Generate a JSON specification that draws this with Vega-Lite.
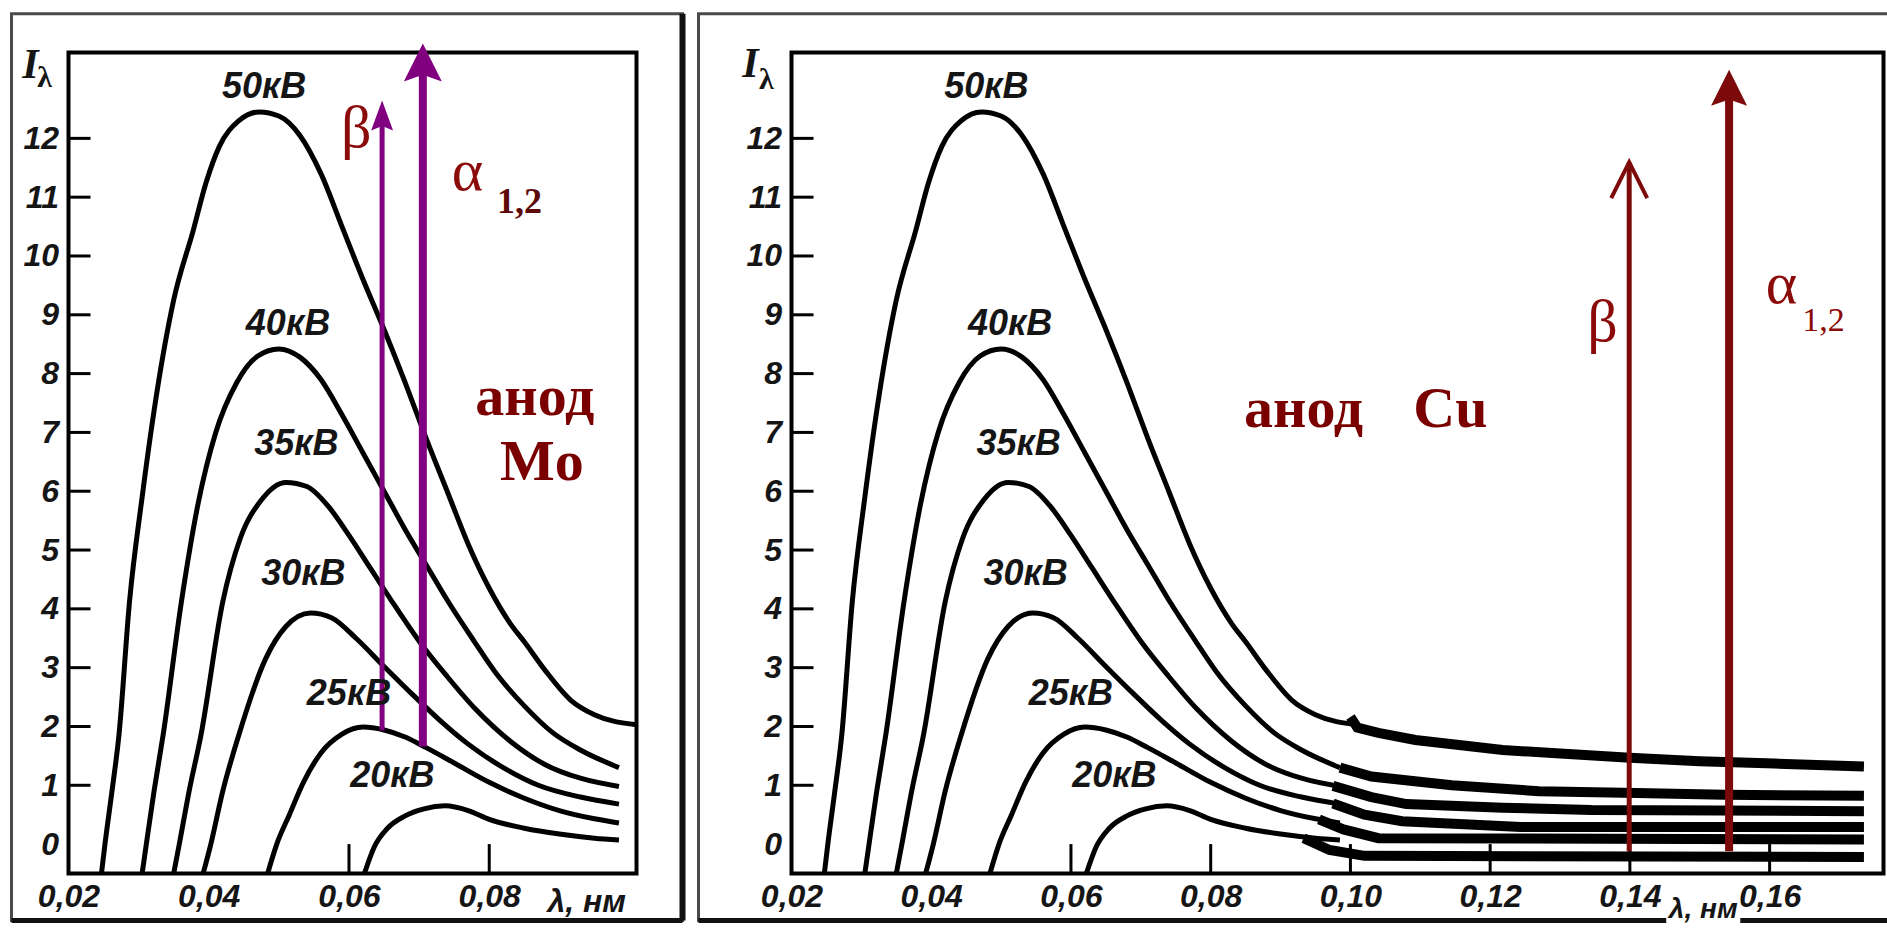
{
  "$schema": "https://vega.github.io/schema/vega-lite/v6.json",
  "background": "white",
  "padding": {"left": 6.5, "top": 8.5, "right": 0, "bottom": 0},
  "bounds": "flush",
  "spacing": 155,
  "config": {
    "view": {"stroke": "#000000", "strokeWidth": 4},
    "axis": {"labelFont": "Liberation Sans", "labelFontSize": 32, "labelFontWeight": "bold", "labelFontStyle": "italic", "labelColor": "#151515", "ticks": false, "domain": false, "grid": false, "labelFlush": false, "labelOverlap": false}
  },
  "datasets": {
    "curves": [
      {"kv": "50", "lam": 0.0247, "I": -0.5}, {"kv": "50", "lam": 0.0252, "I": 0}, {"kv": "50", "lam": 0.0262, "I": 0.9}, {"kv": "50", "lam": 0.0272, "I": 1.86}, {"kv": "50", "lam": 0.0287, "I": 4.12}, {"kv": "50", "lam": 0.0305, "I": 5.9}, {"kv": "50", "lam": 0.0325, "I": 7.6}, {"kv": "50", "lam": 0.035, "I": 9.25}, {"kv": "50", "lam": 0.0378, "I": 10.44}, {"kv": "50", "lam": 0.0396, "I": 11.24}, {"kv": "50", "lam": 0.0415, "I": 11.86}, {"kv": "50", "lam": 0.0443, "I": 12.3}, {"kv": "50", "lam": 0.0472, "I": 12.45}, {"kv": "50", "lam": 0.05, "I": 12.38}, {"kv": "50", "lam": 0.053, "I": 12.05}, {"kv": "50", "lam": 0.056, "I": 11.4}, {"kv": "50", "lam": 0.059, "I": 10.5}, {"kv": "50", "lam": 0.062, "I": 9.6}, {"kv": "50", "lam": 0.065, "I": 8.75}, {"kv": "50", "lam": 0.068, "I": 7.85}, {"kv": "50", "lam": 0.071, "I": 6.9}, {"kv": "50", "lam": 0.074, "I": 6.0}, {"kv": "50", "lam": 0.077, "I": 5.1}, {"kv": "50", "lam": 0.08, "I": 4.35}, {"kv": "50", "lam": 0.083, "I": 3.75}, {"kv": "50", "lam": 0.085, "I": 3.44}, {"kv": "50", "lam": 0.088, "I": 2.95}, {"kv": "50", "lam": 0.0916, "I": 2.45}, {"kv": "50", "lam": 0.095, "I": 2.2}, {"kv": "50", "lam": 0.101, "I": 2.03},
      {"kv": "40", "lam": 0.0305, "I": -0.5}, {"kv": "40", "lam": 0.0311, "I": 0}, {"kv": "40", "lam": 0.0322, "I": 0.9}, {"kv": "40", "lam": 0.0335, "I": 1.86}, {"kv": "40", "lam": 0.0361, "I": 4.12}, {"kv": "40", "lam": 0.0385, "I": 5.8}, {"kv": "40", "lam": 0.041, "I": 7.0}, {"kv": "40", "lam": 0.044, "I": 7.85}, {"kv": "40", "lam": 0.047, "I": 8.3}, {"kv": "40", "lam": 0.05, "I": 8.42}, {"kv": "40", "lam": 0.053, "I": 8.28}, {"kv": "40", "lam": 0.056, "I": 7.9}, {"kv": "40", "lam": 0.059, "I": 7.3}, {"kv": "40", "lam": 0.062, "I": 6.65}, {"kv": "40", "lam": 0.065, "I": 6.0}, {"kv": "40", "lam": 0.068, "I": 5.35}, {"kv": "40", "lam": 0.071, "I": 4.75}, {"kv": "40", "lam": 0.074, "I": 4.15}, {"kv": "40", "lam": 0.0779, "I": 3.44}, {"kv": "40", "lam": 0.081, "I": 2.9}, {"kv": "40", "lam": 0.085, "I": 2.35}, {"kv": "40", "lam": 0.089, "I": 1.9}, {"kv": "40", "lam": 0.093, "I": 1.6}, {"kv": "40", "lam": 0.0985, "I": 1.3},
      {"kv": "35", "lam": 0.035, "I": -0.5}, {"kv": "35", "lam": 0.0358, "I": 0}, {"kv": "35", "lam": 0.0372, "I": 0.9}, {"kv": "35", "lam": 0.0389, "I": 1.86}, {"kv": "35", "lam": 0.042, "I": 4.12}, {"kv": "35", "lam": 0.0445, "I": 5.2}, {"kv": "35", "lam": 0.0475, "I": 5.85}, {"kv": "35", "lam": 0.051, "I": 6.15}, {"kv": "35", "lam": 0.054, "I": 6.08}, {"kv": "35", "lam": 0.057, "I": 5.75}, {"kv": "35", "lam": 0.06, "I": 5.25}, {"kv": "35", "lam": 0.063, "I": 4.7}, {"kv": "35", "lam": 0.066, "I": 4.15}, {"kv": "35", "lam": 0.07, "I": 3.45}, {"kv": "35", "lam": 0.074, "I": 2.85}, {"kv": "35", "lam": 0.078, "I": 2.3}, {"kv": "35", "lam": 0.083, "I": 1.75}, {"kv": "35", "lam": 0.088, "I": 1.35}, {"kv": "35", "lam": 0.093, "I": 1.12}, {"kv": "35", "lam": 0.0985, "I": 0.98},
      {"kv": "30", "lam": 0.0392, "I": -0.5}, {"kv": "30", "lam": 0.0403, "I": 0}, {"kv": "30", "lam": 0.042, "I": 0.9}, {"kv": "30", "lam": 0.0443, "I": 1.86}, {"kv": "30", "lam": 0.0481, "I": 3.15}, {"kv": "30", "lam": 0.051, "I": 3.7}, {"kv": "30", "lam": 0.0545, "I": 3.93}, {"kv": "30", "lam": 0.0575, "I": 3.85}, {"kv": "30", "lam": 0.061, "I": 3.5}, {"kv": "30", "lam": 0.065, "I": 3.02}, {"kv": "30", "lam": 0.069, "I": 2.55}, {"kv": "30", "lam": 0.073, "I": 2.1}, {"kv": "30", "lam": 0.077, "I": 1.7}, {"kv": "30", "lam": 0.082, "I": 1.3}, {"kv": "30", "lam": 0.087, "I": 1.0}, {"kv": "30", "lam": 0.093, "I": 0.8}, {"kv": "30", "lam": 0.0985, "I": 0.68},
      {"kv": "25", "lam": 0.0484, "I": -0.5}, {"kv": "25", "lam": 0.0497, "I": 0}, {"kv": "25", "lam": 0.0515, "I": 0.5}, {"kv": "25", "lam": 0.0535, "I": 1.05}, {"kv": "25", "lam": 0.056, "I": 1.55}, {"kv": "25", "lam": 0.059, "I": 1.87}, {"kv": "25", "lam": 0.062, "I": 1.99}, {"kv": "25", "lam": 0.065, "I": 1.94}, {"kv": "25", "lam": 0.068, "I": 1.82}, {"kv": "25", "lam": 0.071, "I": 1.64}, {"kv": "25", "lam": 0.075, "I": 1.38}, {"kv": "25", "lam": 0.08, "I": 1.05}, {"kv": "25", "lam": 0.085, "I": 0.78}, {"kv": "25", "lam": 0.09, "I": 0.57}, {"kv": "25", "lam": 0.095, "I": 0.43}, {"kv": "25", "lam": 0.0985, "I": 0.36},
      {"kv": "20", "lam": 0.0622, "I": -0.5}, {"kv": "20", "lam": 0.0636, "I": -0.05}, {"kv": "20", "lam": 0.0655, "I": 0.27}, {"kv": "20", "lam": 0.068, "I": 0.48}, {"kv": "20", "lam": 0.0707, "I": 0.6}, {"kv": "20", "lam": 0.0737, "I": 0.65}, {"kv": "20", "lam": 0.077, "I": 0.57}, {"kv": "20", "lam": 0.08, "I": 0.42}, {"kv": "20", "lam": 0.085, "I": 0.27}, {"kv": "20", "lam": 0.09, "I": 0.17}, {"kv": "20", "lam": 0.095, "I": 0.1}, {"kv": "20", "lam": 0.0985, "I": 0.07}
    ],
    "bars": [
      {"kv": "50", "lam": 0.1, "I": 2.16}, {"kv": "50", "lam": 0.101, "I": 1.98}, {"kv": "50", "lam": 0.104, "I": 1.89}, {"kv": "50", "lam": 0.1093, "I": 1.77}, {"kv": "50", "lam": 0.1218, "I": 1.6}, {"kv": "50", "lam": 0.1312, "I": 1.53}, {"kv": "50", "lam": 0.14, "I": 1.47}, {"kv": "50", "lam": 0.15, "I": 1.41}, {"kv": "50", "lam": 0.1607, "I": 1.37}, {"kv": "50", "lam": 0.1735, "I": 1.32},
      {"kv": "40", "lam": 0.0985, "I": 1.3}, {"kv": "40", "lam": 0.103, "I": 1.15}, {"kv": "40", "lam": 0.1145, "I": 1.0}, {"kv": "40", "lam": 0.127, "I": 0.9}, {"kv": "40", "lam": 0.141, "I": 0.87}, {"kv": "40", "lam": 0.1535, "I": 0.84}, {"kv": "40", "lam": 0.1735, "I": 0.82},
      {"kv": "35", "lam": 0.0975, "I": 0.99}, {"kv": "35", "lam": 0.103, "I": 0.8}, {"kv": "35", "lam": 0.108, "I": 0.68}, {"kv": "35", "lam": 0.1218, "I": 0.62}, {"kv": "35", "lam": 0.1345, "I": 0.58}, {"kv": "35", "lam": 0.1735, "I": 0.56},
      {"kv": "30", "lam": 0.0975, "I": 0.69}, {"kv": "30", "lam": 0.102, "I": 0.5}, {"kv": "30", "lam": 0.1074, "I": 0.39}, {"kv": "30", "lam": 0.1244, "I": 0.29}, {"kv": "30", "lam": 0.1735, "I": 0.29},
      {"kv": "25", "lam": 0.0955, "I": 0.42}, {"kv": "25", "lam": 0.099, "I": 0.25}, {"kv": "25", "lam": 0.104, "I": 0.1}, {"kv": "25", "lam": 0.1735, "I": 0.08},
      {"kv": "20", "lam": 0.0933, "I": 0.1}, {"kv": "20", "lam": 0.097, "I": -0.1}, {"kv": "20", "lam": 0.102, "I": -0.2}, {"kv": "20", "lam": 0.1735, "I": -0.22}
    ],
    "arrows": [
      {"panel": "Mo", "line": "α", "lam": 0.07053, "base": 1.66, "top": 13.29, "head": 13.29},
      {"panel": "Mo", "line": "β", "lam": 0.06472, "base": 1.93, "top": 12.39, "head": 12.39},
      {"panel": "Cu", "line": "α", "lam": 0.1542, "base": -0.12, "top": 12.86, "head": 12.86},
      {"panel": "Cu", "line": "β", "lam": 0.1399, "base": -0.12, "top": 11.59, "head": 11.29}
    ],
    "kvlabels": [
      {"t": "50кВ", "lam": 0.0479, "I": 12.87},
      {"t": "40кВ", "lam": 0.0513, "I": 8.84},
      {"t": "35кВ", "lam": 0.0525, "I": 6.8},
      {"t": "30кВ", "lam": 0.0535, "I": 4.6},
      {"t": "25кВ", "lam": 0.06, "I": 2.55},
      {"t": "20кВ", "lam": 0.0662, "I": 1.15}
    ],
    "notes": [
      {"panel": "Mo", "role": "greek", "t": "β", "lam": 0.06103, "I": 11.86},
      {"panel": "Mo", "role": "greek", "t": "α", "lam": 0.0769, "I": 11.12},
      {"panel": "Mo", "role": "sub", "t": "1,2", "lam": 0.0843, "I": 10.73},
      {"panel": "Mo", "role": "anode", "t": "анод", "lam": 0.0865, "I": 7.29},
      {"panel": "Mo", "role": "anode", "t": "Mo", "lam": 0.0875, "I": 6.19},
      {"panel": "Mo", "role": "unit", "t": "λ, нм", "lam": 0.0939, "I": -0.98},
      {"panel": "Mo", "role": "Isym", "t": "I", "lam": 0.01458, "I": 13.24},
      {"panel": "Mo", "role": "Isub", "t": "λ", "lam": 0.01658, "I": 13.02},
      {"panel": "Cu", "role": "greek", "t": "β", "lam": 0.1361, "I": 8.56},
      {"panel": "Cu", "role": "greek", "t": "α", "lam": 0.1617, "I": 9.2},
      {"panel": "Cu", "role": "sub", "t": "1,2", "lam": 0.1677, "I": 8.73},
      {"panel": "Cu", "role": "anode", "t": "анод", "lam": 0.0933, "I": 7.1},
      {"panel": "Cu", "role": "anode", "t": "Cu", "lam": 0.1143, "I": 7.1},
      {"panel": "Cu", "role": "unit", "t": "λ, нм", "lam": 0.1505, "I": -1.12},
      {"panel": "Cu", "role": "Isym", "t": "I", "lam": 0.01413, "I": 13.27},
      {"panel": "Cu", "role": "Isub", "t": "λ", "lam": 0.01642, "I": 13.0}
    ],
    "yticks": [{"v": 1}, {"v": 2}, {"v": 3}, {"v": 4}, {"v": 5}, {"v": 6}, {"v": 7}, {"v": 8}, {"v": 9}, {"v": 10}, {"v": 11}, {"v": 12}],
    "xticks": [
      {"panel": "Mo", "lam": 0.06}, {"panel": "Mo", "lam": 0.08},
      {"panel": "Cu", "lam": 0.06}, {"panel": "Cu", "lam": 0.08}, {"panel": "Cu", "lam": 0.1}, {"panel": "Cu", "lam": 0.12}, {"panel": "Cu", "lam": 0.14}, {"panel": "Cu", "lam": 0.16}
    ]
  },
  "hconcat": [
    {
      "width": 568,
      "height": 821,
      "resolve": {"axis": {"x": "independent", "y": "independent"}},
      "layer": [
        {
          "data": {"values": [{}]},
          "mark": {"type": "rect", "filled": false, "stroke": "#4a4a4a", "strokeWidth": 3},
          "encoding": {
            "x": {"datum": 0.01187, "type": "quantitative", "scale": {"domain": [0.02, 0.101], "nice": false, "zero": false}, "axis": null},
            "x2": {"datum": 0.10756},
            "y": {"datum": 14.12, "type": "quantitative", "scale": {"domain": [-0.5, 13.46], "nice": false, "zero": false}, "axis": null},
            "y2": {"datum": -1.3}
          }
        },
        {
          "data": {"values": [{}]},
          "mark": {"type": "rule", "color": "#111", "strokeWidth": 5},
          "encoding": {
            "x": {"datum": 0.01187, "type": "quantitative", "scale": {"domain": [0.02, 0.101], "nice": false, "zero": false}, "axis": null},
            "x2": {"datum": 0.10756},
            "y": {"datum": -1.3, "type": "quantitative", "scale": {"domain": [-0.5, 13.46], "nice": false, "zero": false}, "axis": null}
          }
        },
        {
          "data": {"values": [{}]},
          "mark": {"type": "rule", "color": "#111", "strokeWidth": 6},
          "encoding": {
            "x": {"datum": 0.10756, "type": "quantitative", "scale": {"domain": [0.02, 0.101], "nice": false, "zero": false}, "axis": null},
            "y": {"datum": 14.12, "type": "quantitative", "scale": {"domain": [-0.5, 13.46], "nice": false, "zero": false}, "axis": null},
            "y2": {"datum": -1.3}
          }
        },
        {
          "data": {"name": "yticks"},
          "mark": {"type": "rule", "color": "#000", "strokeWidth": 3},
          "encoding": {
            "x": {"datum": 0.02, "type": "quantitative", "scale": {"domain": [0.02, 0.101], "nice": false, "zero": false}, "axis": null},
            "x2": {"datum": 0.02314},
            "y": {"field": "v", "type": "quantitative", "scale": {"domain": [-0.5, 13.46], "nice": false, "zero": false}, "axis": null}
          }
        },
        {
          "data": {"name": "xticks"},
          "transform": [{"filter": "datum.panel == 'Mo'"}],
          "mark": {"type": "rule", "color": "#000", "strokeWidth": 3},
          "encoding": {
            "x": {"field": "lam", "type": "quantitative", "scale": {"domain": [0.02, 0.101], "nice": false, "zero": false}, "axis": null},
            "y": {"datum": -0.5, "type": "quantitative", "scale": {"domain": [-0.5, 13.46], "nice": false, "zero": false}, "axis": null},
            "y2": {"datum": 0.0}
          }
        },
        {
          "data": {"name": "curves"},
          "mark": {"type": "line", "color": "#000", "strokeWidth": 5, "interpolate": "monotone"},
          "encoding": {
            "x": {"field": "lam", "type": "quantitative", "scale": {"domain": [0.02, 0.101], "nice": false, "zero": false},
                  "axis": {"values": [0.02, 0.04, 0.06, 0.08], "labelExpr": "replace(format(datum.value, '.2f'), '.', ',')", "labelPadding": 8, "title": null}},
            "y": {"field": "I", "type": "quantitative", "scale": {"domain": [-0.5, 13.46], "nice": false, "zero": false},
                  "axis": {"values": [0, 1, 2, 3, 4, 5, 6, 7, 8, 9, 10, 11, 12], "format": "d", "labelPadding": 10, "title": null}},
            "detail": {"field": "kv", "type": "nominal"}
          }
        },
        {
          "data": {"name": "arrows"},
          "transform": [{"filter": "datum.panel == 'Mo'"}],
          "mark": {"type": "rule", "color": "#800080"},
          "encoding": {
            "x": {"field": "lam", "type": "quantitative", "scale": {"domain": [0.02, 0.101], "nice": false, "zero": false}, "axis": null},
            "y": {"field": "base", "type": "quantitative", "scale": {"domain": [-0.5, 13.46], "nice": false, "zero": false}, "axis": null},
            "y2": {"field": "top"},
            "strokeWidth": {"field": "line", "type": "nominal", "scale": {"domain": ["α", "β"], "range": [8, 5]}, "legend": null}
          }
        },
        {
          "data": {"name": "arrows"},
          "transform": [{"filter": "datum.panel == 'Mo' && datum.line == 'α'"}],
          "mark": {"type": "point", "shape": "M0,-1L-1,1L0,0.65L1,1Z", "size": 1444, "filled": true, "color": "#800080", "opacity": 1},
          "encoding": {
            "x": {"field": "lam", "type": "quantitative", "scale": {"domain": [0.02, 0.101], "nice": false, "zero": false}, "axis": null},
            "y": {"field": "head", "type": "quantitative", "scale": {"domain": [-0.5, 13.46], "nice": false, "zero": false}, "axis": null}
          }
        },
        {
          "data": {"name": "arrows"},
          "transform": [{"filter": "datum.panel == 'Mo' && datum.line == 'β'"}],
          "mark": {"type": "point", "shape": "M0,-1L-0.73,1L0,0.7L0.73,1Z", "size": 900, "filled": true, "color": "#800080", "opacity": 1},
          "encoding": {
            "x": {"field": "lam", "type": "quantitative", "scale": {"domain": [0.02, 0.101], "nice": false, "zero": false}, "axis": null},
            "y": {"field": "head", "type": "quantitative", "scale": {"domain": [-0.5, 13.46], "nice": false, "zero": false}, "axis": null}
          }
        },
        {
          "data": {"name": "kvlabels"},
          "mark": {"type": "text", "font": "Liberation Sans", "fontSize": 36, "fontWeight": "bold", "fontStyle": "italic", "color": "#151515", "align": "center", "baseline": "middle"},
          "encoding": {
            "x": {"field": "lam", "type": "quantitative", "scale": {"domain": [0.02, 0.101], "nice": false, "zero": false}, "axis": null},
            "y": {"field": "I", "type": "quantitative", "scale": {"domain": [-0.5, 13.46], "nice": false, "zero": false}, "axis": null},
            "text": {"field": "t"}
          }
        },
        {
          "data": {"name": "notes"},
          "transform": [{"filter": "datum.panel == 'Mo' && datum.role == 'greek'"}],
          "mark": {"type": "text", "font": "Liberation Serif", "fontSize": 60, "color": "#8b0a0a", "align": "center", "baseline": "alphabetic"},
          "encoding": {
            "x": {"field": "lam", "type": "quantitative", "scale": {"domain": [0.02, 0.101], "nice": false, "zero": false}, "axis": null},
            "y": {"field": "I", "type": "quantitative", "scale": {"domain": [-0.5, 13.46], "nice": false, "zero": false}, "axis": null},
            "text": {"field": "t"}
          }
        },
        {
          "data": {"name": "notes"},
          "transform": [{"filter": "datum.panel == 'Mo' && datum.role == 'sub'"}],
          "mark": {"type": "text", "font": "Liberation Serif", "fontSize": 36, "fontWeight": "bold", "color": "#5e0a0a", "align": "center", "baseline": "alphabetic"},
          "encoding": {
            "x": {"field": "lam", "type": "quantitative", "scale": {"domain": [0.02, 0.101], "nice": false, "zero": false}, "axis": null},
            "y": {"field": "I", "type": "quantitative", "scale": {"domain": [-0.5, 13.46], "nice": false, "zero": false}, "axis": null},
            "text": {"field": "t"}
          }
        },
        {
          "data": {"name": "notes"},
          "transform": [{"filter": "datum.panel == 'Mo' && datum.role == 'anode'"}],
          "mark": {"type": "text", "font": "Liberation Serif", "fontSize": 58, "fontWeight": "bold", "color": "#7a0000", "align": "center", "baseline": "alphabetic"},
          "encoding": {
            "x": {"field": "lam", "type": "quantitative", "scale": {"domain": [0.02, 0.101], "nice": false, "zero": false}, "axis": null},
            "y": {"field": "I", "type": "quantitative", "scale": {"domain": [-0.5, 13.46], "nice": false, "zero": false}, "axis": null},
            "text": {"field": "t"}
          }
        },
        {
          "data": {"name": "notes"},
          "transform": [{"filter": "datum.panel == 'Mo' && datum.role == 'unit'"}],
          "mark": {"type": "text", "font": "Liberation Sans", "fontSize": 32, "fontWeight": "bold", "fontStyle": "italic", "color": "#151515", "align": "center", "baseline": "middle"},
          "encoding": {
            "x": {"field": "lam", "type": "quantitative", "scale": {"domain": [0.02, 0.101], "nice": false, "zero": false}, "axis": null},
            "y": {"field": "I", "type": "quantitative", "scale": {"domain": [-0.5, 13.46], "nice": false, "zero": false}, "axis": null},
            "text": {"field": "t"}
          }
        },
        {
          "data": {"name": "notes"},
          "transform": [{"filter": "datum.panel == 'Mo' && datum.role == 'Isym'"}],
          "mark": {"type": "text", "font": "Liberation Serif", "fontSize": 42, "fontWeight": "bold", "fontStyle": "italic", "color": "#151515", "align": "center", "baseline": "middle"},
          "encoding": {
            "x": {"field": "lam", "type": "quantitative", "scale": {"domain": [0.02, 0.101], "nice": false, "zero": false}, "axis": null},
            "y": {"field": "I", "type": "quantitative", "scale": {"domain": [-0.5, 13.46], "nice": false, "zero": false}, "axis": null},
            "text": {"field": "t"}
          }
        },
        {
          "data": {"name": "notes"},
          "transform": [{"filter": "datum.panel == 'Mo' && datum.role == 'Isub'"}],
          "mark": {"type": "text", "font": "Liberation Serif", "fontSize": 30, "fontWeight": "bold", "color": "#151515", "align": "center", "baseline": "middle"},
          "encoding": {
            "x": {"field": "lam", "type": "quantitative", "scale": {"domain": [0.02, 0.101], "nice": false, "zero": false}, "axis": null},
            "y": {"field": "I", "type": "quantitative", "scale": {"domain": [-0.5, 13.46], "nice": false, "zero": false}, "axis": null},
            "text": {"field": "t"}
          }
        }
      ]
    },
    {
      "width": 1092,
      "height": 821,
      "resolve": {"axis": {"x": "independent", "y": "independent"}},
      "layer": [
        {
          "data": {"values": [{}]},
          "mark": {"type": "rect", "filled": false, "stroke": "#4a4a4a", "strokeWidth": 3},
          "encoding": {
            "x": {"datum": 0.00669, "type": "quantitative", "scale": {"domain": [0.02, 0.1763], "nice": false, "zero": false}, "axis": null},
            "x2": {"datum": 0.17715},
            "y": {"datum": 14.12, "type": "quantitative", "scale": {"domain": [-0.5, 13.46], "nice": false, "zero": false}, "axis": null},
            "y2": {"datum": -1.3}
          }
        },
        {
          "data": {"values": [{}]},
          "mark": {"type": "rule", "color": "#111", "strokeWidth": 5},
          "encoding": {
            "x": {"datum": 0.00669, "type": "quantitative", "scale": {"domain": [0.02, 0.1763], "nice": false, "zero": false}, "axis": null},
            "x2": {"datum": 0.17715},
            "y": {"datum": -1.3, "type": "quantitative", "scale": {"domain": [-0.5, 13.46], "nice": false, "zero": false}, "axis": null}
          }
        },
        {
          "data": {"values": [{}]},
          "mark": {"type": "rect", "color": "white", "opacity": 1},
          "encoding": {
            "x": {"datum": 0.1452, "type": "quantitative", "scale": {"domain": [0.02, 0.1763], "nice": false, "zero": false}, "axis": null},
            "x2": {"datum": 0.1558},
            "y": {"datum": -0.92, "type": "quantitative", "scale": {"domain": [-0.5, 13.46], "nice": false, "zero": false}, "axis": null},
            "y2": {"datum": -1.42}
          }
        },
        {
          "data": {"name": "yticks"},
          "mark": {"type": "rule", "color": "#000", "strokeWidth": 3},
          "encoding": {
            "x": {"datum": 0.02, "type": "quantitative", "scale": {"domain": [0.02, 0.1763], "nice": false, "zero": false}, "axis": null},
            "x2": {"datum": 0.02315},
            "y": {"field": "v", "type": "quantitative", "scale": {"domain": [-0.5, 13.46], "nice": false, "zero": false}, "axis": null}
          }
        },
        {
          "data": {"name": "xticks"},
          "transform": [{"filter": "datum.panel == 'Cu'"}],
          "mark": {"type": "rule", "color": "#000", "strokeWidth": 3},
          "encoding": {
            "x": {"field": "lam", "type": "quantitative", "scale": {"domain": [0.02, 0.1763], "nice": false, "zero": false}, "axis": null},
            "y": {"datum": -0.5, "type": "quantitative", "scale": {"domain": [-0.5, 13.46], "nice": false, "zero": false}, "axis": null},
            "y2": {"datum": 0.0}
          }
        },
        {
          "data": {"name": "curves"},
          "mark": {"type": "line", "color": "#000", "strokeWidth": 5, "interpolate": "monotone"},
          "encoding": {
            "x": {"field": "lam", "type": "quantitative", "scale": {"domain": [0.02, 0.1763], "nice": false, "zero": false},
                  "axis": {"values": [0.02, 0.04, 0.06, 0.08, 0.1, 0.12, 0.14, 0.16], "labelExpr": "replace(format(datum.value, '.2f'), '.', ',')", "labelPadding": 8, "title": null}},
            "y": {"field": "I", "type": "quantitative", "scale": {"domain": [-0.5, 13.46], "nice": false, "zero": false},
                  "axis": {"values": [0, 1, 2, 3, 4, 5, 6, 7, 8, 9, 10, 11, 12], "format": "d", "labelPadding": 10, "title": null}},
            "detail": {"field": "kv", "type": "nominal"}
          }
        },
        {
          "data": {"name": "bars"},
          "mark": {"type": "line", "color": "#000", "strokeWidth": 10},
          "encoding": {
            "x": {"field": "lam", "type": "quantitative", "scale": {"domain": [0.02, 0.1763], "nice": false, "zero": false}, "axis": null},
            "y": {"field": "I", "type": "quantitative", "scale": {"domain": [-0.5, 13.46], "nice": false, "zero": false}, "axis": null},
            "detail": {"field": "kv", "type": "nominal"}
          }
        },
        {
          "data": {"name": "arrows"},
          "transform": [{"filter": "datum.panel == 'Cu'"}],
          "mark": {"type": "rule", "color": "#7d0a0a"},
          "encoding": {
            "x": {"field": "lam", "type": "quantitative", "scale": {"domain": [0.02, 0.1763], "nice": false, "zero": false}, "axis": null},
            "y": {"field": "base", "type": "quantitative", "scale": {"domain": [-0.5, 13.46], "nice": false, "zero": false}, "axis": null},
            "y2": {"field": "top"},
            "strokeWidth": {"field": "line", "type": "nominal", "scale": {"domain": ["α", "β"], "range": [9, 4]}, "legend": null}
          }
        },
        {
          "data": {"name": "arrows"},
          "transform": [{"filter": "datum.panel == 'Cu' && datum.line == 'α'"}],
          "mark": {"type": "point", "shape": "M0,-1L-1,1L0,0.65L1,1Z", "size": 1300, "filled": true, "color": "#7d0a0a", "opacity": 1},
          "encoding": {
            "x": {"field": "lam", "type": "quantitative", "scale": {"domain": [0.02, 0.1763], "nice": false, "zero": false}, "axis": null},
            "y": {"field": "head", "type": "quantitative", "scale": {"domain": [-0.5, 13.46], "nice": false, "zero": false}, "axis": null}
          }
        },
        {
          "data": {"name": "arrows"},
          "transform": [{"filter": "datum.panel == 'Cu' && datum.line == 'β'"}],
          "mark": {"type": "point", "shape": "M-1,1L0,-1L1,1", "size": 1296, "filled": false, "strokeWidth": 4, "color": "#7d0a0a", "opacity": 1},
          "encoding": {
            "x": {"field": "lam", "type": "quantitative", "scale": {"domain": [0.02, 0.1763], "nice": false, "zero": false}, "axis": null},
            "y": {"field": "head", "type": "quantitative", "scale": {"domain": [-0.5, 13.46], "nice": false, "zero": false}, "axis": null}
          }
        },
        {
          "data": {"name": "kvlabels"},
          "mark": {"type": "text", "font": "Liberation Sans", "fontSize": 36, "fontWeight": "bold", "fontStyle": "italic", "color": "#151515", "align": "center", "baseline": "middle"},
          "encoding": {
            "x": {"field": "lam", "type": "quantitative", "scale": {"domain": [0.02, 0.1763], "nice": false, "zero": false}, "axis": null},
            "y": {"field": "I", "type": "quantitative", "scale": {"domain": [-0.5, 13.46], "nice": false, "zero": false}, "axis": null},
            "text": {"field": "t"}
          }
        },
        {
          "data": {"name": "notes"},
          "transform": [{"filter": "datum.panel == 'Cu' && datum.role == 'greek'"}],
          "mark": {"type": "text", "font": "Liberation Serif", "fontSize": 60, "color": "#8b0a0a", "align": "center", "baseline": "alphabetic"},
          "encoding": {
            "x": {"field": "lam", "type": "quantitative", "scale": {"domain": [0.02, 0.1763], "nice": false, "zero": false}, "axis": null},
            "y": {"field": "I", "type": "quantitative", "scale": {"domain": [-0.5, 13.46], "nice": false, "zero": false}, "axis": null},
            "text": {"field": "t"}
          }
        },
        {
          "data": {"name": "notes"},
          "transform": [{"filter": "datum.panel == 'Cu' && datum.role == 'sub'"}],
          "mark": {"type": "text", "font": "Liberation Serif", "fontSize": 34, "color": "#8b0a0a", "align": "center", "baseline": "alphabetic"},
          "encoding": {
            "x": {"field": "lam", "type": "quantitative", "scale": {"domain": [0.02, 0.1763], "nice": false, "zero": false}, "axis": null},
            "y": {"field": "I", "type": "quantitative", "scale": {"domain": [-0.5, 13.46], "nice": false, "zero": false}, "axis": null},
            "text": {"field": "t"}
          }
        },
        {
          "data": {"name": "notes"},
          "transform": [{"filter": "datum.panel == 'Cu' && datum.role == 'anode'"}],
          "mark": {"type": "text", "font": "Liberation Serif", "fontSize": 58, "fontWeight": "bold", "color": "#7a0000", "align": "center", "baseline": "alphabetic"},
          "encoding": {
            "x": {"field": "lam", "type": "quantitative", "scale": {"domain": [0.02, 0.1763], "nice": false, "zero": false}, "axis": null},
            "y": {"field": "I", "type": "quantitative", "scale": {"domain": [-0.5, 13.46], "nice": false, "zero": false}, "axis": null},
            "text": {"field": "t"}
          }
        },
        {
          "data": {"name": "notes"},
          "transform": [{"filter": "datum.panel == 'Cu' && datum.role == 'unit'"}],
          "mark": {"type": "text", "font": "Liberation Sans", "fontSize": 28, "fontWeight": "bold", "fontStyle": "italic", "color": "#151515", "align": "center", "baseline": "middle"},
          "encoding": {
            "x": {"field": "lam", "type": "quantitative", "scale": {"domain": [0.02, 0.1763], "nice": false, "zero": false}, "axis": null},
            "y": {"field": "I", "type": "quantitative", "scale": {"domain": [-0.5, 13.46], "nice": false, "zero": false}, "axis": null},
            "text": {"field": "t"}
          }
        },
        {
          "data": {"name": "notes"},
          "transform": [{"filter": "datum.panel == 'Cu' && datum.role == 'Isym'"}],
          "mark": {"type": "text", "font": "Liberation Serif", "fontSize": 42, "fontWeight": "bold", "fontStyle": "italic", "color": "#151515", "align": "center", "baseline": "middle"},
          "encoding": {
            "x": {"field": "lam", "type": "quantitative", "scale": {"domain": [0.02, 0.1763], "nice": false, "zero": false}, "axis": null},
            "y": {"field": "I", "type": "quantitative", "scale": {"domain": [-0.5, 13.46], "nice": false, "zero": false}, "axis": null},
            "text": {"field": "t"}
          }
        },
        {
          "data": {"name": "notes"},
          "transform": [{"filter": "datum.panel == 'Cu' && datum.role == 'Isub'"}],
          "mark": {"type": "text", "font": "Liberation Serif", "fontSize": 30, "fontWeight": "bold", "color": "#151515", "align": "center", "baseline": "middle"},
          "encoding": {
            "x": {"field": "lam", "type": "quantitative", "scale": {"domain": [0.02, 0.1763], "nice": false, "zero": false}, "axis": null},
            "y": {"field": "I", "type": "quantitative", "scale": {"domain": [-0.5, 13.46], "nice": false, "zero": false}, "axis": null},
            "text": {"field": "t"}
          }
        }
      ]
    }
  ]
}
